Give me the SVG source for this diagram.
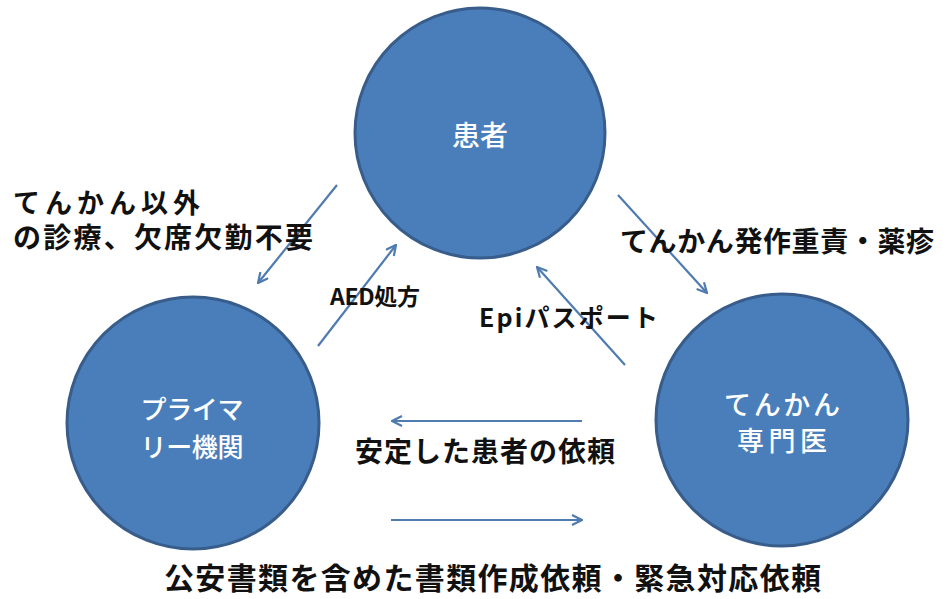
<svg xmlns="http://www.w3.org/2000/svg" width="949" height="599" viewBox="0 0 949 599">
<defs>
<marker id="ah" viewBox="0 0 12 12" refX="11" refY="6" markerWidth="12" markerHeight="12" markerUnits="userSpaceOnUse" orient="auto">
<polyline points="1,1 11,6 1,11" fill="none" stroke="#4f7bb0" stroke-width="2.2"/>
</marker>
<style>
.node{fill:#4a7ebb;stroke:#385d8a;stroke-width:3}
.nt{fill:#ffffff;font-family:"Noto Sans CJK JP","Noto Sans",sans-serif;text-anchor:middle;font-weight:500}
.lb{fill:#111111;font-family:"Noto Sans CJK JP","Noto Sans",sans-serif;font-weight:700}
.con{stroke:#4f7bb0;stroke-width:2.2;fill:none;marker-end:url(#ah)}
</style>
</defs>
<rect width="949" height="599" fill="#ffffff"/>
<g id="patient">
<circle class="node" cx="480" cy="133" r="125"/>
<text class="nt" x="480" y="146" font-size="28">患者</text>
</g>
<g id="primary">
<circle class="node" cx="193" cy="423" r="126"/>
<text class="nt" x="192" y="419" font-size="26" textLength="103">プライマ</text>
<text class="nt" x="192" y="457" font-size="26" textLength="103">リー機関</text>
</g>
<g id="specialist">
<circle class="node" cx="782" cy="420" r="126"/>
<text class="nt" x="782" y="415" font-size="27" textLength="116">てんかん</text>
<text class="nt" x="782" y="451" font-size="27" textLength="90">専門医</text>
</g>
<g id="connectors">
<line class="con" x1="337" y1="185" x2="258" y2="283"/>
<line class="con" x1="318" y1="346" x2="396" y2="245"/>
<line class="con" x1="618" y1="195" x2="707" y2="293"/>
<line class="con" x1="625" y1="365" x2="537" y2="267"/>
<line class="con" x1="582" y1="421" x2="392" y2="421"/>
<line class="con" x1="391" y1="520" x2="582" y2="520"/>
</g>
<g id="labels">
<text class="lb" x="13" y="213" font-size="27" textLength="187">てんかん以外</text>
<text class="lb" x="13" y="248" font-size="28" textLength="300">の診療、欠席欠勤不要</text>
<text class="lb" x="620" y="252" font-size="28" textLength="314">てんかん発作重責・薬疹</text>
<text class="lb" x="330" y="305" font-size="23" textLength="90">AED処方</text>
<text class="lb" x="479" y="327" font-size="25" textLength="179">Epiパスポート</text>
<text class="lb" x="355" y="462" font-size="28" textLength="260">安定した患者の依頼</text>
<text class="lb" x="164" y="589" font-size="30" textLength="657">公安書類を含めた書類作成依頼・緊急対応依頼</text>
</g>
</svg>
